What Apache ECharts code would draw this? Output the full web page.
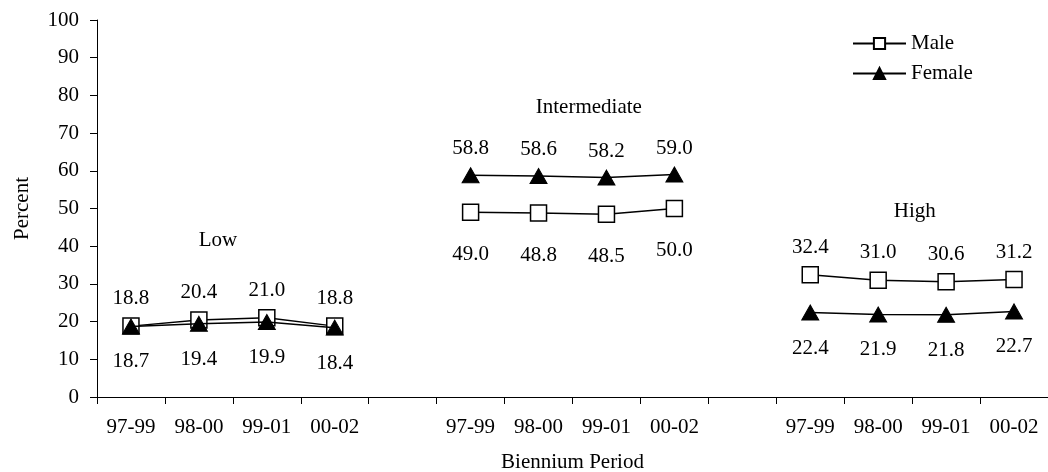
<!DOCTYPE html>
<html><head><meta charset="utf-8">
<script src="https://cdn.jsdelivr.net/npm/echarts@6/dist/echarts.min.js"></script>
<style>html,body{margin:0;padding:0;background:#fff}#c{width:1048px;height:472px}</style>
</head><body><div id="c"></div>
<script>
var categories = ['97-99','98-00','99-01','00-02','','97-99','98-00','99-01','00-02','','97-99','98-00','99-01','00-02'];
var maleValues = [18.8,20.4,21.0,18.8,'-',49.0,48.8,48.5,50.0,'-',32.4,31.0,30.6,31.2];
var femaleValues = [18.7,19.4,19.9,18.4,'-',58.8,58.6,58.2,59.0,'-',22.4,21.9,21.8,22.7];
var groupNames = ['Low','Intermediate','High'];
var groupLabelIndex = [1.28,6.74,11.54];
var groupLabelValues = [41.6,76.7,49.1];
var yTicks = [0,10,20,30,40,50,60,70,80,90,100];

var FONT = 'Liberation Serif';
var FS = 21;
var maleSide = ['top','bottom','top'];
var femaleSide = ['bottom','top','bottom'];
var bottomDist = [17,23,17];

function buildData(vals, sides){
  return vals.map(function(v,i){
    if (v === '-') return '-';
    var g = Math.floor(i/5);
    var side = sides[g];
    return {value: v, label: {position: side, distance: side === 'top' ? 8 : bottomDist[g]}};
  });
}

var chart = echarts.init(document.getElementById('c'), null, {renderer:'canvas'});
chart.setOption({
  animation:false,
  backgroundColor:'#fff',
  textStyle:{fontFamily:FONT,color:'#000'},
  grid:{left:97,right:0,top:20,bottom:75,containLabel:false,outerBoundsMode:'none'},
  legend:{
    orient:'vertical', left:847, top:28, itemWidth:53, itemHeight:14, itemGap:9,
    textStyle:{fontFamily:FONT,fontSize:FS,color:'#000',padding:[0,0,0,0]},
    data:['Male','Female']
  },
  xAxis:{
    type:'category', data:categories, boundaryGap:true,
    name:'Biennium Period', nameLocation:'middle', nameGap:55,
    nameTextStyle:{fontFamily:FONT,fontSize:FS,color:'#000'},
    axisLine:{lineStyle:{color:'#000',width:1}},
    axisTick:{show:true,length:7,interval:0,lineStyle:{color:'#000'}},
    axisLabel:{interval:0,margin:20,fontFamily:FONT,fontSize:FS,color:'#000'},
    splitLine:{show:false}
  },
  yAxis:{
    type:'value', min:0, max:100, interval:10,
    name:'Percent', nameLocation:'middle', nameGap:64, nameRotate:90,
    nameTextStyle:{fontFamily:FONT,fontSize:FS,color:'#000'},
    axisLine:{show:true,lineStyle:{color:'#000',width:1}},
    axisTick:{show:true,length:7,lineStyle:{color:'#000'}},
    axisLabel:{margin:18,fontFamily:FONT,fontSize:FS,color:'#000',
      formatter:function(v){return yTicks.indexOf(v)>=0?String(v):'';}},
    splitLine:{show:false}
  },
  series:[
    {
      name:'Male', type:'line', data:buildData(maleValues,maleSide),
      symbol:'rect', symbolSize:16, connectNulls:false,
      lineStyle:{color:'#000',width:1.5},
      itemStyle:{color:'#fff',borderColor:'#000',borderWidth:1.5},
      label:{show:true,fontFamily:FONT,fontSize:FS,color:'#000',
        formatter:function(p){return Number(p.value).toFixed(1);}},
      z:2
    },
    {
      name:'Female', type:'line', data:buildData(femaleValues,femaleSide),
      symbol:'triangle', symbolSize:[17,15], connectNulls:false,
      lineStyle:{color:'#000',width:1.5},
      itemStyle:{color:'#000',borderColor:'#000',borderWidth:1},
      label:{show:true,fontFamily:FONT,fontSize:FS,color:'#000',
        formatter:function(p){return Number(p.value).toFixed(1);}},
      z:3
    }
  ]
});

// group labels: interpolate pixel position between neighbouring categories
var texts = groupNames.map(function(n,i){
  var idx = groupLabelIndex[i], lo = Math.floor(idx), f = idx - lo;
  var a = chart.convertToPixel({gridIndex:0},[lo, groupLabelValues[i]]);
  var b = chart.convertToPixel({gridIndex:0},[lo+1, groupLabelValues[i]]);
  return {type:'text', x:a[0] + (b[0]-a[0])*f, y:a[1], silent:true,
    style:{text:n, fill:'#000', font:FS+'px "'+FONT+'"', textAlign:'center', textVerticalAlign:'middle'}};
});
chart.setOption({graphic:texts});
</script></body></html>
